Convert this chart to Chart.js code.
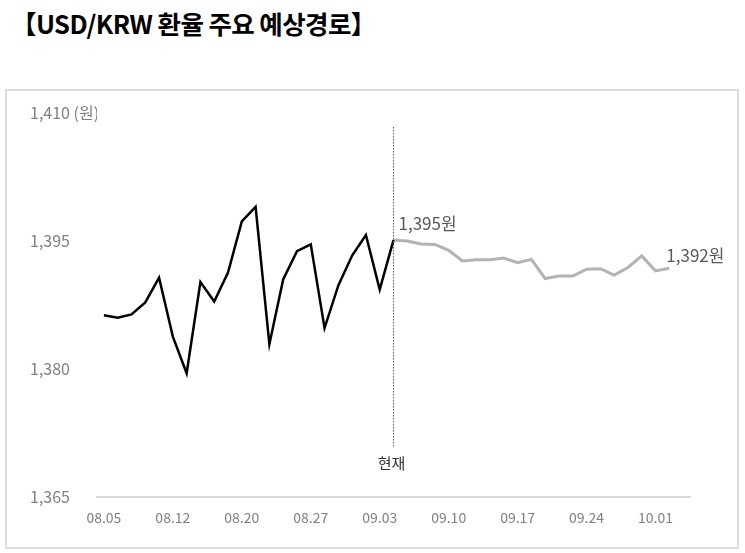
<!DOCTYPE html>
<html>
<head>
<meta charset="utf-8">
<script src="https://cdn.jsdelivr.net/npm/chart.js@4"></script>
<style>
  body { margin: 0; background: #fff; }
  #title { position: absolute; left: 11px; top: 4px; font-family: "Noto Sans CJK KR", sans-serif; font-weight: 700; font-size: 25.5px; color: #000; letter-spacing: -0.6px; }
  #box { position: absolute; left: 5px; top: 89px; width: 730px; height: 456px; border: 2px solid #dcdcdc; }
  #wrap { position: absolute; left: 0; top: 0; }
</style>
</head>
<body>
<div id="title">【USD/KRW 환율 주요 예상경로】</div>
<div id="box"></div>
<div id="wrap"><canvas id="fx" width="745" height="553"></canvas></div>
<script>
// business days, last one blank for spacing on the right
const dates = ['08.05','08.06','08.07','08.08','08.09','08.12','08.13','08.14','08.16','08.19',
  '08.20','08.21','08.22','08.23','08.26','08.27','08.28','08.29','08.30','09.02',
  '09.03','09.04','09.05','09.06','09.09','09.10','09.11','09.12','09.13','09.16',
  '09.17','09.18','09.19','09.20','09.23','09.24','09.25','09.26','09.27','09.30',
  '10.01','10.02',''];

const actual = [1386.3, 1386.0, 1386.4, 1387.8, 1390.7, 1383.8, 1379.5, 1390.2, 1387.9, 1391.3,
  1397.3, 1399.0, 1382.9, 1390.5, 1393.8, 1394.6, 1384.8, 1389.8, 1393.3, 1395.7,
  1389.3, 1395.1];

const forecast = [1395.1, 1395.0, 1394.65, 1394.6, 1393.9, 1392.65, 1392.8, 1392.8, 1393.0, 1392.45,
  1392.85, 1390.6, 1390.9, 1390.9, 1391.7, 1391.75, 1391.0, 1391.9, 1393.25, 1391.5,
  1391.8];

const yTicks = [1365, 1380, 1395, 1410];
const nowIndex = actual.length - 1;

const actualSeries = dates.map((d, i) => i < actual.length ? actual[i] : null);
const forecastSeries = dates.map((d, i) => i >= nowIndex && i - nowIndex < forecast.length ? forecast[i - nowIndex] : null);

const fontName = '"Noto Sans CJK KR", "Noto Sans", sans-serif';

function fmt(v) {
  return Math.round(v).toLocaleString('en-US');
}

// dotted "현재" marker and end labels
const annotations = {
  id: 'annotations',
  afterDatasetsDraw(chart) {
    const ctx = chart.ctx;
    const x = chart.scales.x;
    const y = chart.scales.y;
    const area = chart.chartArea;
    const nowX = x.getPixelForValue(nowIndex);

    ctx.save();
    ctx.strokeStyle = '#555';
    ctx.lineWidth = 1;
    ctx.setLineDash([1.5, 1.5]);
    ctx.beginPath();
    ctx.moveTo(nowX, area.top + 14);
    ctx.lineTo(nowX, area.bottom - 49);
    ctx.stroke();
    ctx.setLineDash([]);

    ctx.font = '15px ' + fontName;
    ctx.fillStyle = '#333';
    ctx.textAlign = 'center';
    ctx.textBaseline = 'middle';
    ctx.fillText('현재', nowX - 2, area.bottom - 34);

    ctx.font = '17px ' + fontName;
    ctx.fillStyle = '#595959';
    ctx.textAlign = 'left';
    ctx.textBaseline = 'alphabetic';
    const first = forecast[0];
    ctx.fillText(fmt(first) + '원', nowX + 5, y.getPixelForValue(first) - 10);
    const lastI = nowIndex + forecast.length - 1;
    const last = forecast[forecast.length - 1];
    ctx.fillText(fmt(last) + '원', x.getPixelForValue(lastI) - 3, y.getPixelForValue(last) - 6);
    ctx.restore();
  }
};

new Chart(document.getElementById('fx'), {
  type: 'line',
  data: {
    labels: dates,
    datasets: [{
      data: actualSeries,
      borderColor: '#000',
      borderWidth: 2.5,
      pointRadius: 0,
      tension: 0
    }, {
      data: forecastSeries,
      borderColor: '#b3b3b3',
      borderWidth: 3,
      pointRadius: 0,
      tension: 0
    }]
  },
  options: {
    responsive: false,
    animation: false,
    layout: { padding: { left: 30, right: 55, top: 113, bottom: 0 } },
    plugins: { legend: { display: false }, tooltip: { enabled: false } },
    scales: {
      x: {
        offset: true,
        grid: { display: false, drawTicks: false },
        border: { display: true, color: '#d9d9d9', width: 2 },
        afterFit(scale) { scale.height = 56; },
        ticks: {
          autoSkip: false,
          maxRotation: 0,
          padding: 12,
          color: '#808080',
          font: { family: fontName, size: 14 },
          callback(v, i) { return i % 5 === 0 ? dates[i] : ''; }
        }
      },
      y: {
        min: 1365,
        max: 1410,
        afterBuildTicks(scale) { scale.ticks = yTicks.map(v => ({ value: v })); },
        afterFit(scale) { scale.width = 67; },
        grid: { display: false, drawTicks: false },
        border: { display: false },
        ticks: {
          crossAlign: 'far',
          padding: 0,
          color: '#808080',
          font: { family: fontName, size: 16 },
          callback(v) { return v === 1410 ? fmt(v) + ' (원)' : fmt(v); }
        }
      }
    }
  },
  plugins: [annotations]
});
</script>
</body>
</html>
